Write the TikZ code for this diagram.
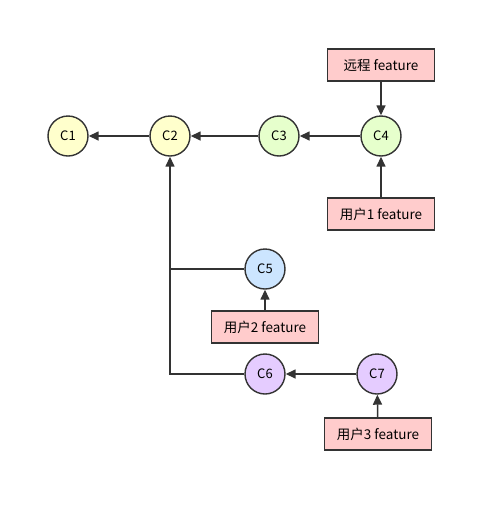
\documentclass[tikz,border=0pt]{standalone}
\usepackage{fontspec}
\setmainfont{Noto Sans CJK SC}
\usetikzlibrary{shapes, arrows.meta, positioning, calc}
\definecolor{lineC}{HTML}{333333}
\definecolor{yelC}{HTML}{FFFFCC}
\definecolor{grnC}{HTML}{E6FFCC}
\definecolor{bluC}{HTML}{CCE5FF}
\definecolor{purC}{HTML}{E5CCFF}
\definecolor{redC}{HTML}{FFCCCC}
\tikzset{
	commit/.style={circle, draw=lineC, line width=1.4pt, minimum size=40pt, inner sep=0pt, font=\fontsize{13}{15}\selectfont},
	branchbox/.style={rectangle, draw=lineC, line width=1.4pt, fill=redC, minimum width=107pt, minimum height=32pt, inner sep=0pt, font=\fontsize{13.5}{15}\selectfont},
	link/.style={draw=lineC, line width=1.5pt, -{Triangle[length=10pt,width=9pt]}},
	plain/.style={draw=lineC, line width=1.5pt}
}
\begin{document}
\begin{tikzpicture}[x=1pt, y=-1pt]
				\useasboundingbox (0,0) rectangle (497,512);
				% commits
				\node[commit, fill=yelC] (c1) at (68,136) {C1};
				\node[commit, fill=yelC] (c2) at (170,136) {C2};
				\node[commit, fill=grnC] (c3) at (279,136) {C3};
				\node[commit, fill=grnC] (c4) at (381,136) {C4};
				\node[commit, fill=bluC] (c5) at (265,269) {C5};
				\node[commit, fill=purC] (c6) at (265,374) {C6};
				\node[commit, fill=purC] (c7) at (377,374) {C7};
				% branches
				\node[branchbox] (remote) at (381,65) {远程 feature};
				\node[branchbox] (user1) at (381,214) {用户1 feature};
				\node[branchbox] (user2) at (265,327) {用户2 feature};
				\node[branchbox] (user3) at (378,434) {用户3 feature};
				% history
				\draw[link] (c2) -- (c1);
				\draw[link] (c3) -- (c2);
				\draw[link] (c4) -- (c3);
				\draw[link] (c7) -- (c6);
				\coordinate (fork) at (c2 |- c6);
				\coordinate (join) at (c2 |- c5);
				\draw[plain] (c6.west) -- (fork) -- (join);
				\draw[link] (join) -- (c2);
				\draw[plain] (c5.west) -- (join);
				% pointers
				\draw[link] (remote) -- (c4);
				\draw[link] (user1) -- (c4);
				\draw[link] (user2) -- (c5);
				\draw[link] (user3) -- (c7);
			\end{tikzpicture}
\end{document}
